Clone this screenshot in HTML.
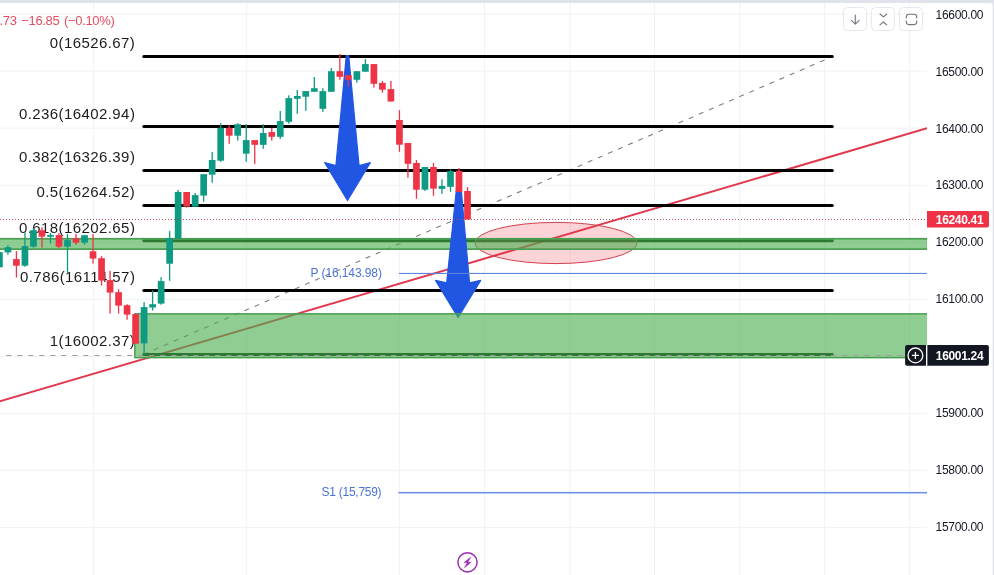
<!DOCTYPE html>
<html><head><meta charset="utf-8"><title>Chart</title>
<style>
html,body{margin:0;padding:0;background:#fff;}
body{width:994px;height:575px;overflow:hidden;position:relative;font-family:"Liberation Sans",sans-serif;}
svg{position:absolute;left:0;top:0;display:block;}
text{font-family:"Liberation Sans",sans-serif;}
.fib{font-size:15px;fill:#1c1c1c;letter-spacing:0.42px;}
.ax{font-size:12px;fill:#131722;letter-spacing:-0.32px;}
.axb{font-size:12px;fill:#fff;font-weight:bold;letter-spacing:-0.32px;}
.piv{font-size:12px;fill:#4a73d8;letter-spacing:-0.1px;}
.chg{font-size:13px;fill:#e54d5d;letter-spacing:-0.35px;word-spacing:1.5px;}
</style></head><body>
<svg width="994" height="575" viewBox="0 0 994 575">
<defs><clipPath id="pane"><rect x="0" y="3" width="927" height="572"/></clipPath></defs>
<rect x="0" y="0" width="994" height="575" fill="#e0e3eb"/>
<path d="M0,3 H989.7 Q992.7,3 992.7,6 V575 H0 Z" fill="#fff"/>
<g clip-path="url(#pane)">
<rect x="93.2" y="3" width="1" height="572" fill="#f1f2f5"/>
<rect x="246.2" y="3" width="1" height="572" fill="#f1f2f5"/>
<rect x="399.1" y="3" width="1" height="572" fill="#f1f2f5"/>
<rect x="484.0" y="3" width="1" height="572" fill="#f1f2f5"/>
<rect x="569.4" y="3" width="1" height="572" fill="#f1f2f5"/>
<rect x="654.0" y="3" width="1" height="572" fill="#f1f2f5"/>
<rect x="739.2" y="3" width="1" height="572" fill="#f1f2f5"/>
<rect x="824.2" y="3" width="1" height="572" fill="#f1f2f5"/>
<rect x="909.1" y="3" width="1" height="572" fill="#f1f2f5"/>
<rect x="0" y="13.7" width="927" height="1" fill="#f1f2f5"/>
<rect x="0" y="70.7" width="927" height="1" fill="#f1f2f5"/>
<rect x="0" y="127.7" width="927" height="1" fill="#f1f2f5"/>
<rect x="0" y="184.8" width="927" height="1" fill="#f1f2f5"/>
<rect x="0" y="241.8" width="927" height="1" fill="#f1f2f5"/>
<rect x="0" y="298.8" width="927" height="1" fill="#f1f2f5"/>
<rect x="0" y="355.8" width="927" height="1" fill="#f1f2f5"/>
<rect x="0" y="412.8" width="927" height="1" fill="#f1f2f5"/>
<rect x="0" y="469.9" width="927" height="1" fill="#f1f2f5"/>
<rect x="0" y="526.9" width="927" height="1" fill="#f1f2f5"/>
<!-- trend line -->
<line x1="-5" y1="402.8" x2="927" y2="128.3" stroke="#e0394c" stroke-width="2"/>
<!-- fib -->
<line x1="143.5" y1="354.4" x2="832.5" y2="56.5" stroke="#7f7f7f" stroke-width="1.1" stroke-dasharray="5 6"/>
<line x1="143.8" y1="56.5" x2="832.3" y2="56.5" stroke="#000" stroke-width="3" stroke-linecap="round"/>
<line x1="143.8" y1="126.4" x2="832.3" y2="126.4" stroke="#000" stroke-width="3" stroke-linecap="round"/>
<line x1="143.8" y1="170.5" x2="832.3" y2="170.5" stroke="#000" stroke-width="3" stroke-linecap="round"/>
<line x1="143.8" y1="205.4" x2="832.3" y2="205.4" stroke="#000" stroke-width="3" stroke-linecap="round"/>
<line x1="143.8" y1="240.8" x2="832.3" y2="240.8" stroke="#002600" stroke-width="3" stroke-linecap="round"/>
<line x1="143.8" y1="290.5" x2="832.3" y2="290.5" stroke="#000" stroke-width="3" stroke-linecap="round"/>
<line x1="143.8" y1="354.4" x2="832.3" y2="354.4" stroke="#002600" stroke-width="3" stroke-linecap="round"/>
<text x="135.3" y="48.0" text-anchor="end" class="fib">0(16526.67)</text>
<text x="135.3" y="119.0" text-anchor="end" class="fib">0.236(16402.94)</text>
<text x="135.3" y="162.0" text-anchor="end" class="fib">0.382(16326.39)</text>
<text x="135.3" y="196.6" text-anchor="end" class="fib">0.5(16264.52)</text>
<text x="135.3" y="232.6" text-anchor="end" class="fib">0.618(16202.65)</text>
<text x="135.3" y="282.4" text-anchor="end" class="fib">0.786(16114.57)</text>
<text x="135.3" y="346.0" text-anchor="end" class="fib">1(16002.37)</text>
<!-- ellipse -->
<ellipse cx="556" cy="243" rx="80.8" ry="20.6" fill="rgba(242,54,69,0.22)" stroke="#d2424f" stroke-width="1"/>
<!-- green zone 1 -->
<rect x="-5" y="238.75" width="932.6" height="10.4" fill="rgba(76,175,80,0.62)" stroke="#4a9f50" stroke-width="1.7"/>
<!-- arrows -->
<path d="M346.3,55.6 L348.7,55.6 L359.1,165.7 L370.3,162.6 L347.5,200.5 L324.7,162.6 L335.9,165.7 Z" fill="#2156e2" stroke="#2156e2" stroke-width="1.2" stroke-linejoin="round"/>
<path d="M457.7,177.0 L460.09999999999997,177.0 L469.5,282.8 L480.70000000000005,280.4 L458.1,317.4 L435.5,280.4 L446.70000000000005,282.8 Z" fill="#2156e2" stroke="#2156e2" stroke-width="1.2" stroke-linejoin="round"/>
<!-- pivots -->
<rect x="398.8" y="272.9" width="528.2" height="1.1" fill="#5f84dc"/>
<rect x="398.4" y="491.9" width="528.6" height="1.6" fill="#6f90e6"/>
<!-- green zone 2 -->
<rect x="134.85" y="313.85" width="792.9" height="43.8" fill="rgba(76,175,80,0.62)" stroke="#4a9f50" stroke-width="1.5"/>
<!-- candles -->
<rect x="-1.24" y="250.0" width="1.3" height="18.5" fill="#0f9a83"/>
<rect x="-3.94" y="252.1" width="6.7" height="15.2" fill="#0f9a83"/>
<rect x="7.27" y="245.1" width="1.3" height="9.6" fill="#0f9a83"/>
<rect x="4.57" y="247.2" width="6.7" height="5.2" fill="#0f9a83"/>
<rect x="15.78" y="251.1" width="1.3" height="26.4" fill="#ee3548"/>
<rect x="13.08" y="259.1" width="6.7" height="6.6" fill="#ee3548"/>
<rect x="24.29" y="232.3" width="1.3" height="34.5" fill="#0f9a83"/>
<rect x="21.59" y="246.1" width="6.7" height="19.6" fill="#0f9a83"/>
<rect x="32.80" y="228.1" width="1.3" height="19.5" fill="#0f9a83"/>
<rect x="30.10" y="230.2" width="6.7" height="16.4" fill="#0f9a83"/>
<rect x="41.31" y="227.3" width="1.3" height="20.3" fill="#ee3548"/>
<rect x="38.61" y="230.2" width="6.7" height="6.5" fill="#ee3548"/>
<rect x="49.83" y="233.0" width="1.3" height="10.5" fill="#0f9a83"/>
<rect x="47.13" y="234.9" width="6.7" height="1.9" fill="#0f9a83"/>
<rect x="58.34" y="233.0" width="1.3" height="15.3" fill="#ee3548"/>
<rect x="55.64" y="235.1" width="6.7" height="11.6" fill="#ee3548"/>
<rect x="66.85" y="234.0" width="1.3" height="38.8" fill="#0f9a83"/>
<rect x="64.15" y="240.1" width="6.7" height="6.5" fill="#0f9a83"/>
<rect x="75.36" y="234.0" width="1.3" height="10.8" fill="#ee3548"/>
<rect x="72.66" y="238.2" width="6.7" height="4.5" fill="#ee3548"/>
<rect x="83.87" y="235.2" width="1.3" height="9.6" fill="#0f9a83"/>
<rect x="81.17" y="235.2" width="6.7" height="7.5" fill="#0f9a83"/>
<rect x="92.38" y="234.0" width="1.3" height="29.6" fill="#ee3548"/>
<rect x="89.68" y="251.3" width="6.7" height="7.3" fill="#ee3548"/>
<rect x="100.89" y="256.1" width="1.3" height="29.5" fill="#ee3548"/>
<rect x="98.19" y="258.2" width="6.7" height="22.4" fill="#ee3548"/>
<rect x="109.40" y="270.9" width="1.3" height="42.7" fill="#ee3548"/>
<rect x="106.70" y="280.1" width="6.7" height="12.5" fill="#ee3548"/>
<rect x="117.91" y="289.2" width="1.3" height="24.4" fill="#ee3548"/>
<rect x="115.21" y="292.2" width="6.7" height="13.4" fill="#ee3548"/>
<rect x="126.42" y="304.2" width="1.3" height="15.5" fill="#ee3548"/>
<rect x="123.72" y="305.2" width="6.7" height="9.4" fill="#ee3548"/>
<rect x="134.93" y="313.2" width="1.3" height="30.5" fill="#ee3548"/>
<rect x="132.23" y="314.1" width="6.7" height="29.6" fill="#ee3548"/>
<rect x="143.45" y="302.1" width="1.3" height="52.3" fill="#0f9a83"/>
<rect x="140.75" y="307.1" width="6.7" height="36.3" fill="#0f9a83"/>
<rect x="151.96" y="290.3" width="1.3" height="20.2" fill="#0f9a83"/>
<rect x="149.26" y="304.2" width="6.7" height="3.3" fill="#0f9a83"/>
<rect x="160.47" y="277.1" width="1.3" height="27.6" fill="#0f9a83"/>
<rect x="157.77" y="281.1" width="6.7" height="22.5" fill="#0f9a83"/>
<rect x="168.98" y="231.1" width="1.3" height="49.7" fill="#0f9a83"/>
<rect x="166.28" y="238.1" width="6.7" height="25.6" fill="#0f9a83"/>
<rect x="177.49" y="189.9" width="1.3" height="48.7" fill="#0f9a83"/>
<rect x="174.79" y="192.0" width="6.7" height="46.6" fill="#0f9a83"/>
<rect x="186.00" y="192.0" width="1.3" height="15.7" fill="#ee3548"/>
<rect x="183.30" y="192.0" width="6.7" height="14.6" fill="#ee3548"/>
<rect x="194.51" y="193.0" width="1.3" height="13.6" fill="#0f9a83"/>
<rect x="191.81" y="195.1" width="6.7" height="11.5" fill="#0f9a83"/>
<rect x="203.02" y="174.2" width="1.3" height="27.5" fill="#0f9a83"/>
<rect x="200.32" y="174.2" width="6.7" height="21.4" fill="#0f9a83"/>
<rect x="211.53" y="151.9" width="1.3" height="30.9" fill="#0f9a83"/>
<rect x="208.83" y="160.0" width="6.7" height="14.7" fill="#0f9a83"/>
<rect x="220.04" y="123.2" width="1.3" height="38.6" fill="#0f9a83"/>
<rect x="217.34" y="127.8" width="6.7" height="32.9" fill="#0f9a83"/>
<rect x="228.56" y="125.3" width="1.3" height="18.5" fill="#ee3548"/>
<rect x="225.86" y="127.8" width="6.7" height="7.9" fill="#ee3548"/>
<rect x="237.07" y="123.2" width="1.3" height="17.4" fill="#0f9a83"/>
<rect x="234.37" y="124.2" width="6.7" height="11.5" fill="#0f9a83"/>
<rect x="245.58" y="124.2" width="1.3" height="37.6" fill="#0f9a83"/>
<rect x="242.88" y="140.1" width="6.7" height="13.6" fill="#0f9a83"/>
<rect x="254.09" y="140.1" width="1.3" height="23.8" fill="#ee3548"/>
<rect x="251.39" y="140.1" width="6.7" height="4.7" fill="#ee3548"/>
<rect x="262.60" y="124.2" width="1.3" height="24.6" fill="#0f9a83"/>
<rect x="259.90" y="133.0" width="6.7" height="11.8" fill="#0f9a83"/>
<rect x="271.11" y="127.8" width="1.3" height="12.8" fill="#ee3548"/>
<rect x="268.41" y="132.1" width="6.7" height="4.7" fill="#ee3548"/>
<rect x="279.62" y="111.0" width="1.3" height="27.9" fill="#0f9a83"/>
<rect x="276.92" y="121.1" width="6.7" height="15.7" fill="#0f9a83"/>
<rect x="288.13" y="95.3" width="1.3" height="28.3" fill="#0f9a83"/>
<rect x="285.43" y="98.1" width="6.7" height="23.7" fill="#0f9a83"/>
<rect x="296.64" y="90.0" width="1.3" height="23.8" fill="#0f9a83"/>
<rect x="293.94" y="96.0" width="6.7" height="2.8" fill="#0f9a83"/>
<rect x="305.15" y="91.1" width="1.3" height="19.8" fill="#0f9a83"/>
<rect x="302.45" y="91.1" width="6.7" height="5.6" fill="#0f9a83"/>
<rect x="313.67" y="77.0" width="1.3" height="14.8" fill="#0f9a83"/>
<rect x="310.97" y="88.2" width="6.7" height="3.6" fill="#0f9a83"/>
<rect x="322.18" y="88.2" width="1.3" height="23.7" fill="#0f9a83"/>
<rect x="319.48" y="91.1" width="6.7" height="17.7" fill="#0f9a83"/>
<rect x="330.69" y="68.1" width="1.3" height="23.7" fill="#0f9a83"/>
<rect x="327.99" y="71.2" width="6.7" height="20.6" fill="#0f9a83"/>
<rect x="339.20" y="53.9" width="1.3" height="25.9" fill="#ee3548"/>
<rect x="336.50" y="71.2" width="6.7" height="5.6" fill="#ee3548"/>
<rect x="347.71" y="75.1" width="1.3" height="11.7" fill="#ee3548"/>
<rect x="345.01" y="75.1" width="6.7" height="4.7" fill="#ee3548"/>
<rect x="356.22" y="71.2" width="1.3" height="11.5" fill="#0f9a83"/>
<rect x="353.52" y="71.2" width="6.7" height="8.6" fill="#0f9a83"/>
<rect x="364.73" y="59.1" width="1.3" height="12.6" fill="#0f9a83"/>
<rect x="362.03" y="64.1" width="6.7" height="7.6" fill="#0f9a83"/>
<rect x="373.24" y="64.1" width="1.3" height="23.5" fill="#ee3548"/>
<rect x="370.54" y="64.1" width="6.7" height="19.7" fill="#ee3548"/>
<rect x="381.75" y="81.0" width="1.3" height="11.7" fill="#ee3548"/>
<rect x="379.05" y="82.9" width="6.7" height="6.8" fill="#ee3548"/>
<rect x="390.26" y="81.0" width="1.3" height="20.5" fill="#ee3548"/>
<rect x="387.56" y="89.1" width="6.7" height="12.4" fill="#ee3548"/>
<rect x="398.78" y="110.1" width="1.3" height="41.7" fill="#ee3548"/>
<rect x="396.08" y="120.0" width="6.7" height="24.7" fill="#ee3548"/>
<rect x="407.29" y="143.0" width="1.3" height="34.7" fill="#ee3548"/>
<rect x="404.59" y="143.0" width="6.7" height="20.8" fill="#ee3548"/>
<rect x="415.80" y="159.9" width="1.3" height="38.9" fill="#ee3548"/>
<rect x="413.10" y="163.0" width="6.7" height="26.7" fill="#ee3548"/>
<rect x="424.31" y="167.0" width="1.3" height="23.9" fill="#0f9a83"/>
<rect x="421.61" y="167.0" width="6.7" height="22.7" fill="#0f9a83"/>
<rect x="432.82" y="163.0" width="1.3" height="32.8" fill="#ee3548"/>
<rect x="430.12" y="167.0" width="6.7" height="21.6" fill="#ee3548"/>
<rect x="441.33" y="179.2" width="1.3" height="14.7" fill="#0f9a83"/>
<rect x="438.63" y="186.0" width="6.7" height="2.9" fill="#0f9a83"/>
<rect x="449.84" y="169.3" width="1.3" height="22.5" fill="#0f9a83"/>
<rect x="447.14" y="171.1" width="6.7" height="15.7" fill="#0f9a83"/>
<rect x="458.35" y="168.0" width="1.3" height="24.0" fill="#ee3548"/>
<rect x="455.65" y="170.9" width="6.7" height="21.1" fill="#ee3548"/>
<rect x="466.86" y="187.1" width="1.3" height="32.4" fill="#ee3548"/>
<rect x="464.16" y="191.0" width="6.7" height="28.5" fill="#ee3548"/>
<!-- price line dotted -->
<line x1="0" y1="219.5" x2="927" y2="219.5" stroke="#b4485a" stroke-width="1" stroke-dasharray="1 2"/>
<!-- crosshair -->
<line x1="6.3" y1="355.5" x2="906" y2="355.5" stroke="#9a9da6" stroke-width="1" stroke-dasharray="5 6"/>
</g>
<text x="310.6" y="277.1" class="piv">P (16,143.98)</text>
<text x="321.6" y="495.8" class="piv" style="letter-spacing:-0.27px">S1 (15,759)</text>
<text x="-0.5" y="25.4" class="chg">.73 −16.85 (−0.10%)</text>
<text x="935.6" y="18.9" class="ax">16600.00</text>
<text x="935.6" y="75.6" class="ax">16500.00</text>
<text x="935.6" y="132.5" class="ax">16400.00</text>
<text x="935.6" y="189.1" class="ax">16300.00</text>
<text x="935.6" y="246.0" class="ax">16200.00</text>
<text x="935.6" y="303.3" class="ax">16100.00</text>
<text x="935.6" y="417.2" class="ax">15900.00</text>
<text x="935.6" y="474.0" class="ax">15800.00</text>
<text x="935.6" y="530.9" class="ax">15700.00</text>
<!-- price label -->
<path d="M927,211 H987 Q989,211 989,213 V225.6 Q989,227.6 987,227.6 H927 Z" fill="#ee3347"/>
<text x="935.8" y="223.5" class="axb">16240.41</text>
<!-- crosshair label -->
<path d="M907.1,345.1 H926 V365.7 H907.1 Q905.1,365.7 905.1,363.7 V347.1 Q905.1,345.1 907.1,345.1 Z" fill="#131722"/>
<path d="M927.2,345.1 H986.9 Q988.9,345.1 988.9,347.1 V363.7 Q988.9,365.7 986.9,365.7 H927.2 Z" fill="#131722"/>
<rect x="926" y="345.1" width="1.2" height="20.6" fill="#fff"/>
<circle cx="915.4" cy="355.4" r="7.4" fill="none" stroke="#fff" stroke-width="1.3"/>
<path d="M911.9,355.4 H918.9 M915.4,351.9 V358.9" stroke="#fff" stroke-width="1.3" fill="none"/>
<text x="935.8" y="359.8" class="axb">16001.24</text>
<!-- buttons -->
<g fill="rgba(255,255,255,0.55)" stroke="#e6e8ee" stroke-width="1">
<rect x="843.5" y="7.5" width="23" height="23" rx="4"/>
<rect x="871.5" y="7.5" width="23" height="23" rx="4"/>
<rect x="899.5" y="7.5" width="23" height="23" rx="4"/>
</g>
<g fill="none" stroke="#74777f" stroke-width="1.1" stroke-linecap="round" stroke-linejoin="round">
<path d="M855.3,15 V24 M851.5,20.3 L855.3,24.2 L859.2,20.3"/>
<path d="M880,14 L883.4,16.9 L886.8,14 M880,24.9 L883.4,22 L886.8,24.9"/>
<path d="M906.3,17.9 V16.8 Q906.3,14.3 908.8,14.3 H914.2 Q916.7,14.3 916.7,16.8 V17.9 M906.3,20.8 V22.1 Q906.3,24.6 908.8,24.6 H914.2 Q916.7,24.6 916.7,22.1 V20.8"/>
</g>
<!-- lightning -->
<circle cx="467.5" cy="562.3" r="9.6" fill="none" stroke="#9a2cb3" stroke-width="1.5"/>
<path d="M470.7,557.2 L463.9,562.6 L467.3,562.6 L464.4,567.7 L471.2,562.2 L467.9,562.2 Z" fill="#9a2cb3" stroke="#9a2cb3" stroke-width="0.5" stroke-linejoin="round"/>
</svg>
</body></html>
